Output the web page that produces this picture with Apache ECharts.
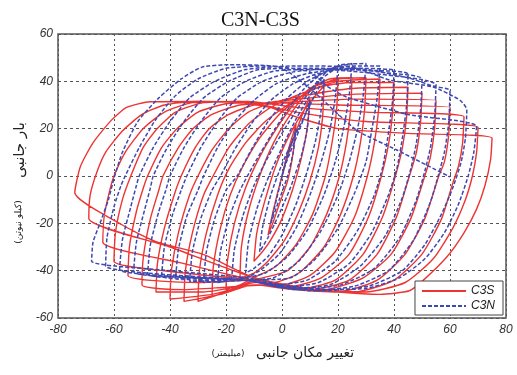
<!DOCTYPE html>
<html>
<head>
<meta charset="utf-8">
<script src="https://cdn.jsdelivr.net/npm/echarts@6/dist/echarts.min.js"></script>
<style>
  html, body { margin: 0; padding: 0; background: #fff; }
  #chart { width: 517px; height: 375px; }
</style>
</head>
<body>
<div id="chart"></div>
<script>
// axis ranges (mm / kN)
var xTicks = [-80, -60, -40, -20, 0, 20, 40, 60, 80];
var yTicks = [-60, -40, -20, 0, 20, 40, 60];

// C3S - one array per cycle
var c3sCycles = [
  [[0,0],[2,10],[4,18],[5,22],[4,10],[2,-2],[-1,-12],[-3,-19],[-5,-25]],
  [[-3,-14],[0,0],[3,12],[6,22],[8,28],[10,33],[9,20],[7,8],[4,-5],[0,-18],[-4,-27],[-7,-32],[-10,-36]],
  [[-9,-24],[-6,-10],[-2,5],[3,18],[8,28],[12,34],[15,38],[14.5,25],[13,12],[10,-2],[6,-15],[1,-27],[-5,-36],[-10,-41],[-15,-43]],
  [[-14.5,-30],[-12,-15],[-8,0],[-3,14],[3,26],[8,34],[12,38],[20,40.5],[19.5,28],[18,15],[15.5,0],[11,-16],[5,-29],[-2,-38],[-10,-43],[-15,-46],[-20,-48]],
  [[-19.5,-36],[-17,-20],[-13,-5],[-8,8],[-2,20],[4,30],[10,37],[17,41],[25,41.5],[24.5,28],[23,14],[20.5,0],[16,-16],[10,-30],[2,-40],[-10,-44],[-18,-48],[-25,-51]],
  [[-24.5,-38],[-22,-22],[-18.5,-8],[-14,4],[-8,16],[-1,26],[6,33],[12,38],[20,41],[30,41.5],[29.5,28],[28,14],[25.5,0],[21,-16],[15,-30],[6,-41],[-3,-45],[-10,-45],[-20,-49],[-30,-53]],
  [[-29.5,-40],[-27,-24],[-23,-8],[-19,3],[-13,14],[-6,23],[2,30],[10,36],[20,40],[35,41],[34.5,28],[33,14],[30.5,0],[26,-17],[19,-32],[10,-42],[0,-46],[-10,-46],[-22,-50],[-35,-53]],
  [[-34.5,-40],[-32,-24],[-28,-8],[-24.6,0],[-19,12],[-12,22],[-4,29],[5,34],[15,38],[25,39.5],[40,39.5],[39.5,27],[38,13],[35.5,0],[31,-17],[24,-33],[14,-43],[2,-47],[-10,-46],[-25,-50],[-40,-52]],
  [[-39.5,-40],[-37,-24],[-33,-8],[-30,0],[-25,11],[-19,20],[-12,27],[-3,31],[8,34],[25,37],[45,37.5],[44.5,25],[43,12],[40.5,0],[36,-17],[29,-33],[19,-44],[5,-48],[-10,-46],[-28,-49],[-45,-49]],
  [[-44.5,-37],[-42,-22],[-38.5,-8],[-36,0],[-31,12],[-26,20],[-19,26],[-10,30],[2,32],[25,34.5],[50,35],[49.5,23],[48,10],[45.5,0],[41,-17],[34,-33],[24,-44],[10,-48],[-5,-46],[-20,-47],[-35,-48],[-50,-46]],
  [[-49.5,-34],[-47,-18],[-44,-6],[-42.5,0],[-37,12],[-31.8,20],[-25,26],[-15,30],[0,31],[25,32.5],[55,32],[54.5,20],[53,8],[51,0],[46,-18],[39,-33],[29,-43],[15,-48],[0,-47],[-10,-44],[-30,-45],[-55,-42]],
  [[-54.5,-30],[-52,-15],[-49.5,-5],[-48,0],[-43,12],[-37.5,20],[-30,27],[-20,30.5],[-5,31],[20,30],[60,29],[59.5,17],[58,6],[56,0],[51,-18],[44,-33],[34,-44],[20,-49],[5,-48],[-10,-44],[-35,-41],[-60,-36]],
  [[-59.5,-24],[-57,-10],[-54,0],[-49.6,12],[-44.6,20],[-38,27],[-28,31],[-12,31.5],[5,29],[30,27],[65,25],[64.5,14],[63,4],[61,-3],[57,-18],[50,-33],[40,-44],[26,-49],[10,-48],[-10,-44],[-35,-37],[-64,-28]],
  [[-63.5,-17],[-61.5,-6],[-60,0],[-56,10],[-49.6,20],[-42,27],[-32,31],[-15,31.5],[5,27],[30,23],[70,20.5],[69.5,10],[68,0],[65.5,-10],[61,-22],[54,-35],[44,-45],[30,-49],[12,-48],[-10,-43],[-40,-30],[-69,-18]],
  [[-68.5,-8],[-66,2],[-63,10],[-57,19],[-50,26],[-42,30],[-30,31.5],[-10,31],[5,25],[20,20],[45,18],[75,16],[74.5,7],[72.5,-4],[69.5,-14],[65,-24],[59,-34],[50.5,-44],[45.5,-48.5],[35,-50],[20,-49],[5,-47],[-10,-43],[-27.5,-33.4],[-45,-27.7],[-57,-20.7],[-74,-7]],
  [[-72,4],[-67.5,14],[-61,23.5],[-55.5,29],[-47,31.4],[-33,31.5],[-15,31],[0,28]]
];

// C3N - one array per cycle
var c3nCycles = [
  [[0,0],[2,9],[4,16],[5,20],[4,10],[2,0],[-1,-10],[-4,-20]],
  [[-2,-10],[1,4],[5,16],[8,25],[10,32],[9,20],[7,9],[3,-5],[-1,-16],[-5,-26],[-8,-32]],
  [[-7,-22],[-4,-8],[0,5],[5,18],[10,30],[13,37],[15,41],[14,28],[12,15],[9,2],[5,-12],[0,-25],[-5,-34],[-10,-39],[-13,-41]],
  [[-12,-28],[-9,-14],[-5,-1],[0,12],[5,24],[10,34],[14,41],[20,46],[19,33],[17,19],[14,6],[10,-8],[5,-22],[-1,-33],[-8,-40],[-13,-43],[-18,-44]],
  [[-17,-31],[-14,-17],[-10,-4],[-5,8],[1,20],[7,31],[12,39],[17,45],[25,47.5],[24,34],[22,20],[19,6],[15,-8],[9,-23],[2,-34],[-6,-41],[-13,-43],[-23,-45]],
  [[-22,-32],[-19,-18],[-15,-6],[-10,5],[-4,17],[2,28],[8,37],[14,43],[21,47],[30,47.5],[29,34],[27,20],[24,6],[20,-8],[14,-23],[6,-36],[-3,-43],[-13,-44],[-28,-45]],
  [[-27,-32],[-24,-18],[-20,-6],[-16,0],[-11,11],[-5,23],[2,33],[9,40],[16,44],[25,46.5],[35,46.5],[34,33],[32,19],[30,6],[26,-7],[20,-22],[12,-35],[3,-43],[-13,-44],[-33,-44.5]],
  [[-32,-32],[-29,-18],[-25,-6],[-22,0],[-17,11],[-11,22],[-4,32],[4,39],[12,43],[25,45.5],[40,44.5],[39.5,32],[38,18],[36,4],[33,-8],[27,-23],[19,-36],[9,-44],[-2,-46],[-13,-44],[-38,-43.5]],
  [[-37,-31],[-34,-17],[-30,-6],[-28,0],[-23,12],[-17,23],[-10,32],[-2,39],[8,43],[20,45],[35,44.5],[45,43],[44.5,30],[43,16],[41,3],[38,-8],[32,-24],[24,-37],[13,-45],[0,-47],[-13,-44],[-43,-42.5]],
  [[-42,-30],[-39,-16],[-36,-6],[-34,0],[-29,12],[-23,23],[-16,33],[-7,40],[4,44],[20,45.5],[38,43.5],[50,41],[49.5,28],[48,14],[46,3],[43,-9],[37,-25],[28,-38],[17,-46],[2,-47.5],[-13,-44],[-48,-41.5]],
  [[-47,-29],[-44,-15],[-41.5,-6],[-40,0],[-35,12],[-29,23],[-22,33],[-13,40],[-2,44.5],[15,45],[35,43],[55,38.5],[54.5,25],[53,12],[51,2],[48,-10],[42,-26],[33,-39],[21,-46],[5,-48],[-13,-44],[-53,-40.5]],
  [[-52,-28],[-49,-14],[-47,-5],[-46,0],[-41,12],[-35,23],[-28,33],[-19,40],[-8,45],[10,45.5],[30,45],[45,41.5],[54,38],[60,36],[59.5,22],[58,10],[56,1],[53,-11],[47,-27],[38,-40],[26,-46.5],[10,-48.5],[-13,-44],[-58,-39.5]],
  [[-57,-27],[-54,-13],[-52,-4],[-51,0],[-46,12],[-40,23],[-33,33],[-24,40],[-13,45],[5,46.5],[25,46],[38.6,40.5],[54,37.6],[63.6,32],[66,28],[65.5,16],[64,6],[61,-5],[57,-16],[51,-29],[43,-40],[31,-46.5],[15,-48.5],[-13,-44],[-63,-38]],
  [[-62.5,-26],[-60,-13],[-57.5,-4],[-56,0],[-51,12],[-45,24],[-38,34],[-30,41],[-20,45.5],[-5,46.5],[10,44],[16,38],[23,33.4],[45,26],[69.5,21],[68.5,10],[66.5,0],[63,-12],[58,-24],[51,-35],[42,-43],[30,-47.5],[15,-48],[0,-46],[-13,-43],[-40,-40],[-68,-36]],
  [[-67.5,-28],[-65,-20],[-62,-10],[-60,-1],[-57,10],[-51.5,23],[-44,33],[-36,41],[-28.6,46],[-19,47],[-1,46],[10,37],[26.6,19.4],[41,11],[60,-0.4]]
];

function joinCycles(cycles) {
  var out = [];
  cycles.forEach(function (c) { out = out.concat(c); });
  return out;
}

var chart = echarts.init(document.getElementById('chart'), null, { renderer: 'canvas' });
var tickFont = { color: '#333', fontSize: 12, fontStyle: 'italic', fontFamily: 'Liberation Sans' };

chart.setOption({
  animation: false,
  title: {
    text: 'C3N-C3S',
    left: 216, top: 6,
    textStyle: { fontFamily: 'Liberation Serif', fontWeight: 'normal', fontSize: 20, color: '#111' }
  },
  grid: { left: 58, right: 11, top: 34, bottom: 57, show: true, borderColor: '#555', borderWidth: 1.5, backgroundColor: '#fff' },
  legend: {
    right: 14, bottom: 60,
    orient: 'vertical',
    itemWidth: 44, itemHeight: 10, itemGap: 3,
    padding: [4, 8, 3, 6],
    borderColor: '#444', borderWidth: 1, backgroundColor: '#fff',
    itemStyle: { opacity: 0 },
    lineStyle: { width: 2 },
    textStyle: { fontSize: 12, fontStyle: 'italic', fontFamily: 'Liberation Sans', color: '#222' },
    data: ['C3S', 'C3N']
  },
  xAxis: {
    type: 'value', min: xTicks[0], max: xTicks[xTicks.length - 1], interval: 20,
    axisLine: { show: false },
    axisTick: { show: true, inside: true, length: 4, lineStyle: { color: '#555' } },
    axisLabel: Object.assign({ margin: 6 }, tickFont),
    splitLine: { show: true, lineStyle: { color: '#555', type: [2, 3], width: 1 } }
  },
  yAxis: {
    type: 'value', min: yTicks[0], max: yTicks[yTicks.length - 1], interval: 20,
    axisLine: { show: false },
    axisTick: { show: true, inside: true, length: 4, lineStyle: { color: '#555' } },
    axisLabel: Object.assign({ margin: 5 }, tickFont),
    splitLine: { show: true, lineStyle: { color: '#555', type: [3, 3], width: 1 } }
  },
  graphic: [
    { type: 'text', x: 20, y: 150, rotation: Math.PI / 2,
      style: { text: 'بار جانبی', fontSize: 15, fontFamily: 'DejaVu Sans', fill: '#222', align: 'center', verticalAlign: 'middle' } },
    { type: 'text', x: 19, y: 222, rotation: Math.PI / 2,
      style: { text: '(کیلو نیوتن)', fontSize: 9, fontFamily: 'DejaVu Sans', fill: '#222', align: 'center', verticalAlign: 'middle' } },
    { type: 'text', x: 305, y: 353,
      style: { text: 'تغییر مکان جانبی', fontSize: 14, fontFamily: 'DejaVu Sans', fill: '#222', align: 'center', verticalAlign: 'middle' } },
    { type: 'text', x: 228, y: 354,
      style: { text: '(میلیمتر)', fontSize: 9, fontFamily: 'DejaVu Sans', fill: '#222', align: 'center', verticalAlign: 'middle' } }
  ],
  series: [
    {
      name: 'C3S', type: 'line', data: joinCycles(c3sCycles),
      showSymbol: false, symbol: 'none', smooth: 0.2,
      lineStyle: { color: '#ec3434', width: 1.4 },
      itemStyle: { color: '#ec3434' }
    },
    {
      name: 'C3N', type: 'line', data: joinCycles(c3nCycles),
      showSymbol: false, symbol: 'none', smooth: 0.2,
      lineStyle: { color: '#3d48b0', width: 1.5, type: [4, 2] },
      itemStyle: { color: '#3d48b0' }
    }
  ]
});
</script>
</body>
</html>
